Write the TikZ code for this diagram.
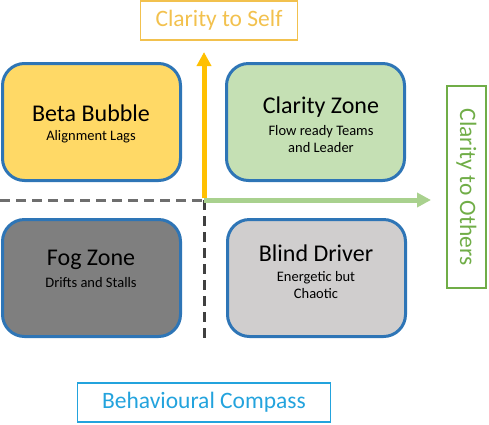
\documentclass[tikz,border=0pt]{standalone}
\usepackage{fontspec}
\setmainfont{Carlito}
\usetikzlibrary{arrows.meta}
\definecolor{bord}{HTML}{2E75B6}
\definecolor{gold}{HTML}{FFC000}
\definecolor{goldtxt}{HTML}{F2C14E}
\definecolor{grn}{HTML}{A9D18E}
\definecolor{grntxt}{HTML}{70AD47}
\definecolor{bluetxt}{HTML}{23A3DD}
\tikzset{
  quad/.style={draw=bord, line width=3pt, rounded corners=22pt, minimum width=178pt, minimum height=117pt, inner sep=0pt},
  ttl/.style={font=\fontsize{24}{28}\selectfont, text=black, inner sep=0pt},
  sub/.style={font=\fontsize{14.5}{17}\selectfont, text=black, align=center, inner sep=0pt},
  lbl/.style={draw, line width=1.8pt, font=\fontsize{23.5}{26}\selectfont, inner sep=0pt}
}
\begin{document}
\begin{tikzpicture}[x=1pt,y=-1pt]
\useasboundingbox (0,0) rectangle (489,424);
% quadrant boxes
\node[quad, fill={rgb,255:red,255;green,217;blue,102}] (bb) at (91.5,122) {};
\node[quad, fill={rgb,255:red,197;green,224;blue,180}] (cz) at (315.5,122) {};
\node[quad, fill={rgb,255:red,127;green,127;blue,127}] (fz) at (91.5,278) {};
\node[quad, fill={rgb,255:red,208;green,206;blue,206}] (bd) at (316.5,278) {};
% texts
\node[ttl] (bbt) at (91,113) {Beta Bubble};
\node[sub] (bbs) at (91,137) {Alignment Lags};
\node[ttl] (czt) at (321,107) {Clarity Zone};
\node[sub] (czs) at (321,139) {Flow ready Teams\\and Leader};
\node[ttl] (fzt) at (91,260) {Fog Zone};
\node[sub] (fzs) at (91,283) {Drifts and Stalls};
\node[ttl] (bdt) at (316,253) {Blind Driver};
\node[sub] (bds) at (316,285) {Energetic but\\Chaotic};
% axes
\coordinate (o) at (204,200);
\coordinate (l) at (0,200);
\coordinate (dn) at (204,339);
\coordinate (up) at (204,52);
\coordinate (rt) at (431,200);
\draw[dashed, dash pattern=on 10pt off 6pt, line width=3pt, color={rgb,255:red,110;green,110;blue,110}] (l) -- (o);
\draw[dashed, dash pattern=on 10pt off 6pt, line width=3pt, color={rgb,255:red,64;green,64;blue,64}] (o) -- (dn);
\draw[line width=5pt, grn, -{Triangle[width=14pt,length=14pt]}] (o) -- (rt);
\draw[line width=5pt, gold, -{Triangle[width=14pt,length=14pt]}] ([yshift=2.5pt]o) -- (up);
% labels
\node[lbl, draw=goldtxt, text=goldtxt, minimum width=157pt, minimum height=39pt] (cs) at (219,20.5) {Clarity to Self};
\node[lbl, draw=grntxt, text=grntxt, minimum width=202pt, minimum height=39pt, rotate=-90] (co) at (466.5,187) {Clarity to Others};
\node[lbl, draw=bluetxt, text=bluetxt, minimum width=253pt, minimum height=39pt] (bc) at (204,402.5) {Behavioural Compass};
\end{tikzpicture}
\end{document}
